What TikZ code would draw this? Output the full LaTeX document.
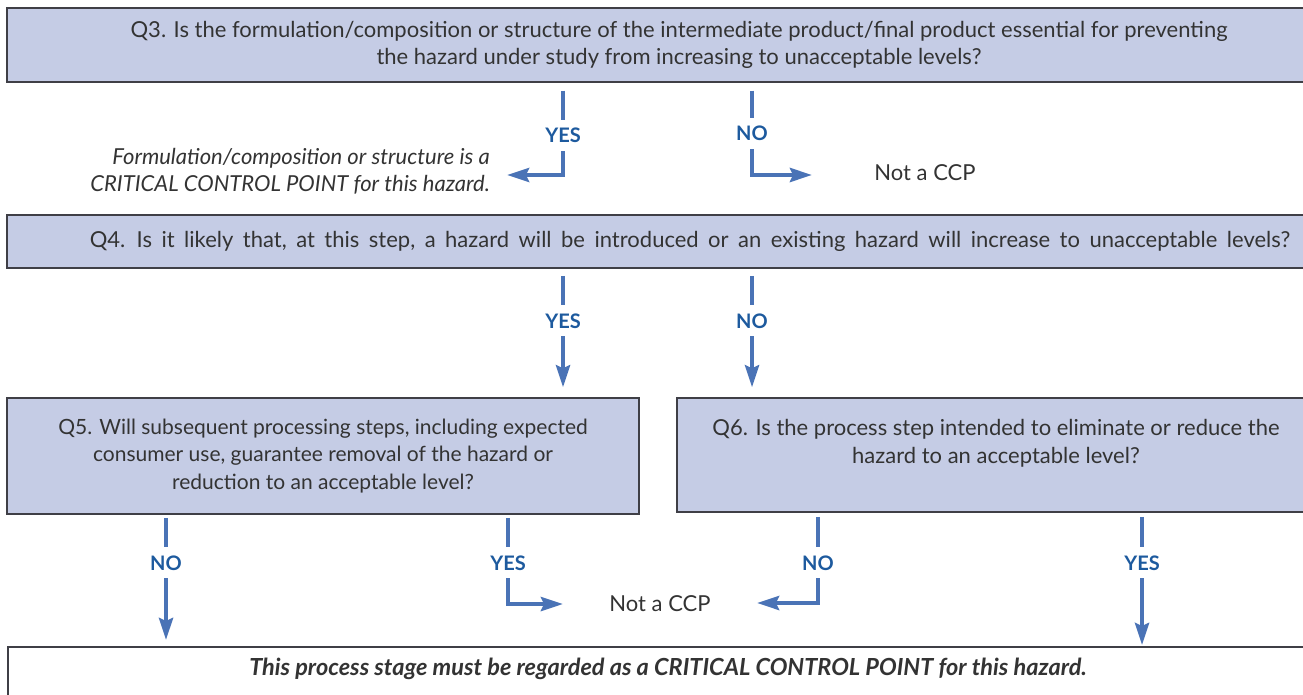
\documentclass[tikz,border=0pt]{standalone}
\usepackage{fontspec}
\setmainfont{Lato}
\usetikzlibrary{arrows.meta,positioning,calc}
\definecolor{boxfill}{HTML}{C5CCE5}
\definecolor{boxline}{HTML}{3F3F46}
\definecolor{flowblue}{HTML}{4A73B6}
\definecolor{answerblue}{HTML}{1D5A9E}
\definecolor{ink}{HTML}{333333}

\begin{document}
\begin{tikzpicture}[x=1pt,y=-1pt,font=\fontsize{22}{27.5}\selectfont,
  qbox/.style={draw=boxline,line width=1.5pt,fill=boxfill,text=ink,align=center,inner sep=0pt},
  answer/.style={text=answerblue,font=\fontsize{20}{22}\selectfont\bfseries,
                 text height=15pt,text depth=0pt,inner ysep=8pt,inner xsep=3pt},
  flow/.style={draw=flowblue,line width=4pt},
  arrow/.style={flow,-{Stealth[length=22pt,width=14pt,inset=3pt]}},
  note/.style={text=ink,inner sep=0pt}]
  \useasboundingbox (0,0) rectangle (1303,695);
  \clip (0,0) rectangle (1303,695);

  % question boxes
  \node[qbox,minimum width=1344pt,minimum height=74pt] (q3) at (679,45)
       {Q3. Is the formulation/composition or structure of the intermediate product/final product essential for preventing\\
        the hazard under study from increasing to unacceptable levels?};
  \node[qbox,minimum width=1366pt,minimum height=53pt] (q4) at (690,241.5)
       {\spaceskip=9.5pt plus 1pt Q4. Is it likely that, at this step, a hazard will be introduced or an existing hazard will increase to unacceptable levels?};
  \node[qbox,minimum width=632pt,minimum height=116pt,font=\fontsize{21}{27.5}\selectfont] (q5) at (323,456)
       {Q5. Will subsequent processing steps, including expected\\
        consumer use, guarantee removal of the hazard or\\
        reduction to an acceptable level?};
  \node[qbox,minimum width=638pt,minimum height=114pt] (q6) at (996,455)
       {Q6. Is the process step intended to eliminate or reduce the\\
        hazard to an acceptable level?\\ ~};
  \node[qbox,fill=white,minimum width=1320pt,anchor=north,inner ysep=7pt,
        text height=22pt,text depth=30pt,font=\fontsize{23.5}{24}\selectfont\bfseries\itshape] (ccp) at (668,646)
       {This process stage must be regarded as a CRITICAL CONTROL POINT for this hazard.};

  % outcomes
  \node[note,anchor=east,align=right,font=\fontsize{22}{27}\selectfont\itshape] (fcp) at (490,171.5)
       {Formulation/composition or structure is a\\ CRITICAL CONTROL POINT for this hazard.};
  \node[note] (ncp1) at (925,173) {Not a CCP};
  \node[note] (ncp2) at (660,604) {Not a CCP};
  \coordinate (c3y) at (507,175);
  \coordinate (c3n) at (812,175);
  \coordinate (c5y) at (563,604);
  \coordinate (c6n) at (757,603);

  % answers
  \node[answer] (y3) at (563,135.5) {YES};
  \node[answer] (n3) at (752,133.5) {NO};
  \node[answer] (y4) at (563,320.5) {YES};
  \node[answer] (n4) at (752,320.5) {NO};
  \node[answer] (n5) at (166,562.5) {NO};
  \node[answer] (y5) at (508,562.5) {YES};
  \node[answer] (n6) at (818,562.5) {NO};
  \node[answer] (y6) at (1142,562.5) {YES};

  % Q3
  \draw[flow,shorten <=8pt] (q3.south -| y3) -- (y3);
  \draw[arrow] (y3) |- (c3y);
  \draw[flow,shorten <=8pt] (q3.south -| n3) -- (n3);
  \draw[arrow] (n3) |- (c3n);
  % Q4
  \draw[flow,shorten <=7pt] (q4.south -| y4) -- (y4);
  \draw[arrow,shorten >=10pt] (y4) -- (q5.north -| y4);
  \draw[flow,shorten <=7pt] (q4.south -| n4) -- (n4);
  \draw[arrow,shorten >=10pt] (n4) -- (q6.north -| n4);
  % Q5
  \draw[flow,shorten <=3pt] (q5.south -| n5) -- (n5);
  \draw[arrow,shorten >=6pt] (n5) -- (ccp.north -| n5);
  \draw[flow,shorten <=3pt] (q5.south -| y5) -- (y5);
  \draw[arrow] (y5) |- (c5y);
  % Q6
  \draw[flow,shorten <=4pt] (q6.south -| n6) -- (n6);
  \draw[arrow] (n6) |- (c6n);
  \draw[flow,shorten <=4pt] (q6.south -| y6) -- (y6);
  \draw[arrow,shorten >=1pt] (y6) -- (ccp.north -| y6);
\end{tikzpicture}
\end{document}
